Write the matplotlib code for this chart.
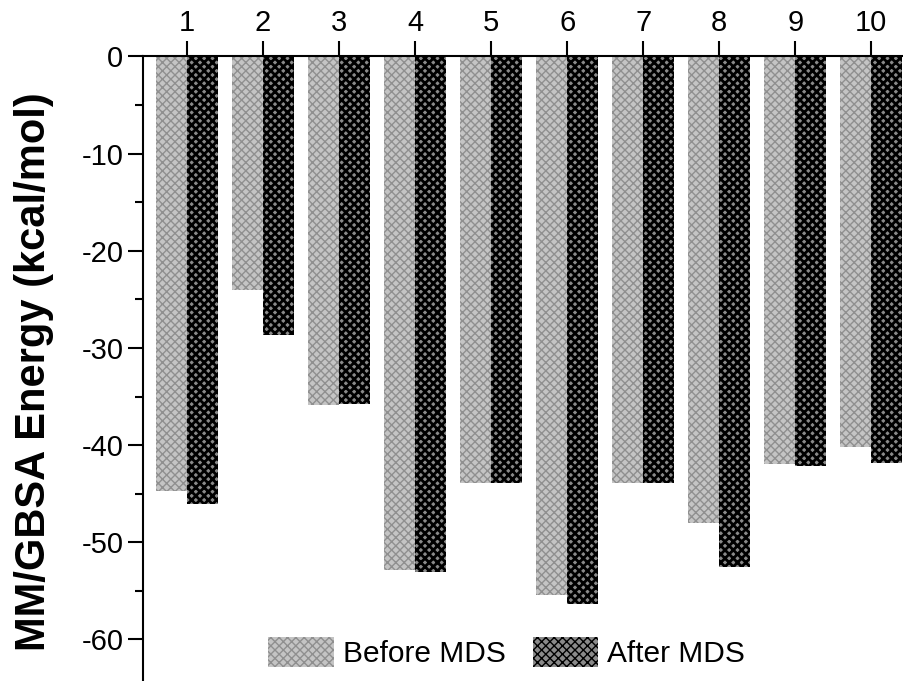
import matplotlib
matplotlib.use("Agg")
import matplotlib.pyplot as plt
import numpy as np

plt.rcParams["font.family"] = ["Liberation Sans", "DejaVu Sans"]
plt.rcParams["axes.unicode_minus"] = False

compounds = ["1", "2", "3", "4", "5", "6", "7", "8", "9", "10"]
before_mds = [-44.7, -24.0, -35.9, -52.9, -43.9, -55.4, -43.9, -48.0, -41.9, -40.2]
after_mds = [-46.1, -28.7, -35.8, -53.1, -43.9, -56.3, -43.9, -52.5, -42.1, -41.8]

x = np.arange(1, len(compounds) + 1)
width = 0.41

fig = plt.figure(figsize=(9.04, 6.81), dpi=100)
ax = fig.add_axes([0.158, 0.0, 0.842, 0.9173])


def hatched_bars(offset, values, fill, hatch_color, hatch_lw, label):
    with plt.rc_context({"hatch.linewidth": hatch_lw}):
        bars = ax.bar(x + offset, values, width, color=fill, edgecolor=hatch_color,
                      hatch="xxxx", linewidth=0, label=label)
    for b in bars:
        if hasattr(b, "set_hatch_linewidth"):
            b.set_hatch_linewidth(hatch_lw)
    return bars


hatched_bars(-width / 2, before_mds, "#c4c4c4", "#8f8f8f", 1.0, "Before MDS")
hatched_bars(width / 2, after_mds, "#8a8a8a", "#000000", 2.0, "After MDS")

ax.set_xlim(0.42, 10.43)
ax.set_ylim(-64.27, 0)
ax.xaxis.tick_top()
ax.set_xticks(x)
ax.set_xticklabels(compounds)
ax.set_yticks([0, -10, -20, -30, -40, -50, -60])
ax.set_yticks([-5, -15, -25, -35, -45, -55], minor=True)
ax.tick_params(axis="both", which="major", direction="out", length=11, width=1.5,
               labelsize=21, pad=3)
ax.tick_params(axis="y", which="minor", direction="out", length=6, width=1.5)

for side in ["right", "bottom"]:
    ax.spines[side].set_visible(False)
for side in ["left", "top"]:
    ax.spines[side].set_linewidth(1.5)

ax.set_ylabel("MM/GBSA Energy (kcal/mol)", fontsize=30, fontweight="bold")
ax.yaxis.set_label_coords(-0.117, 0.495)

ax.legend(loc="center", bbox_to_anchor=(0.478, 0.046), ncol=2, frameon=False,
          fontsize=21.5, handlelength=2.2, handleheight=1.2, handletextpad=0.3,
          columnspacing=0.9, borderaxespad=0, borderpad=0)

fig.savefig("out.png", dpi=100)
